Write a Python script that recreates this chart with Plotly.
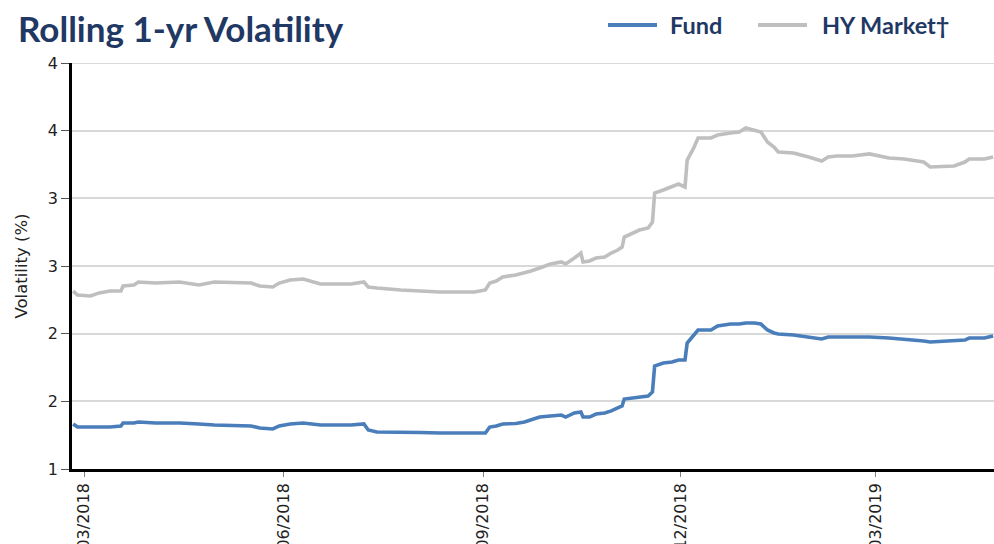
import plotly.graph_objects as go

dates = [
    "2018-02-24", "2018-02-26", "2018-03-04", "2018-03-08", "2018-03-13", "2018-03-18",
    "2018-03-19", "2018-03-24", "2018-03-26", "2018-04-03", "2018-04-14", "2018-04-23",
    "2018-04-30", "2018-05-17", "2018-05-21", "2018-05-27", "2018-05-30", "2018-06-04",
    "2018-06-10", "2018-06-18", "2018-07-02", "2018-07-08", "2018-07-10", "2018-07-14",
    "2018-07-25", "2018-08-03", "2018-08-12", "2018-08-21", "2018-08-28", "2018-09-02",
    "2018-09-04", "2018-09-07", "2018-09-10", "2018-09-16", "2018-09-20", "2018-09-23",
    "2018-09-27", "2018-10-02", "2018-10-07", "2018-10-09", "2018-10-13", "2018-10-16",
    "2018-10-17", "2018-10-20", "2018-10-23", "2018-10-27", "2018-10-30", "2018-11-02",
    "2018-11-04", "2018-11-05", "2018-11-12", "2018-11-16", "2018-11-18", "2018-11-19",
    "2018-11-23", "2018-11-27", "2018-11-30", "2018-12-03", "2018-12-04", "2018-12-07",
    "2018-12-09", "2018-12-15", "2018-12-18", "2018-12-24", "2018-12-28", "2018-12-31",
    "2019-01-04", "2019-01-07", "2019-01-10", "2019-01-13", "2019-01-15", "2019-01-22",
    "2019-01-29", "2019-02-04", "2019-02-07", "2019-02-11", "2019-02-18", "2019-02-26",
    "2019-03-07", "2019-03-14", "2019-03-23", "2019-03-26", "2019-04-06", "2019-04-11",
    "2019-04-13", "2019-04-20", "2019-04-24",
]

fund = [
    1.333, 1.310, 1.310, 1.310, 1.310, 1.318,
    1.340, 1.340, 1.347, 1.340, 1.340, 1.333,
    1.325, 1.318, 1.303, 1.296, 1.318, 1.333,
    1.340, 1.325, 1.325, 1.333, 1.288, 1.273,
    1.273, 1.270, 1.266, 1.266, 1.266, 1.266,
    1.310, 1.318, 1.333, 1.336, 1.347, 1.362,
    1.384, 1.392, 1.399, 1.384, 1.414, 1.421,
    1.384, 1.384, 1.406, 1.414, 1.429, 1.451,
    1.466, 1.517, 1.532, 1.539, 1.569, 1.761,
    1.783, 1.791, 1.805, 1.805, 1.931, 1.990,
    2.027, 2.027, 2.057, 2.071, 2.071, 2.079,
    2.079, 2.071, 2.027, 2.005, 1.997, 1.990,
    1.975, 1.961, 1.975, 1.975, 1.975, 1.975,
    1.968, 1.961, 1.946, 1.938, 1.946, 1.953,
    1.968, 1.968, 1.983,
]

hy_market = [
    2.315, 2.286, 2.278, 2.301, 2.315, 2.315,
    2.352, 2.360, 2.382, 2.374, 2.382, 2.360,
    2.382, 2.374, 2.352, 2.345, 2.374, 2.397,
    2.404, 2.367, 2.367, 2.382, 2.345, 2.337,
    2.323, 2.315, 2.308, 2.308, 2.308, 2.323,
    2.374, 2.389, 2.419, 2.434, 2.448, 2.463,
    2.485, 2.515, 2.530, 2.515, 2.559, 2.596,
    2.530, 2.537, 2.559, 2.567, 2.596, 2.618,
    2.640, 2.714, 2.766, 2.781, 2.825, 3.039,
    3.062, 3.084, 3.106, 3.084, 3.283, 3.372,
    3.446, 3.446, 3.468, 3.483, 3.490, 3.520,
    3.505, 3.490, 3.416, 3.379, 3.342, 3.335,
    3.305, 3.276, 3.305, 3.313, 3.313, 3.328,
    3.298, 3.291, 3.268, 3.232, 3.239, 3.268,
    3.291, 3.291, 3.305,
]

y_ticks = [1, 1.5, 2, 2.5, 3, 3.5, 4]

NAVY = "#1F3864"
BLUE = "#4A7EBB"
GREY = "#BFBFBF"
GRID = "#D9D9D9"

fig = go.Figure()
fig.add_trace(go.Scatter(x=dates, y=hy_market, mode="lines", name="HY Market\u2020",
                         line=dict(color=GREY, width=3.6), showlegend=False))
fig.add_trace(go.Scatter(x=dates, y=fund, mode="lines", name="Fund",
                         line=dict(color=BLUE, width=3.6), showlegend=False))

# top gridline (plotly omits the grid line on the plot edge)
fig.add_shape(type="line", xref="paper", yref="y", x0=0, x1=1, y0=y_ticks[-1], y1=y_ticks[-1],
              line=dict(color=GRID, width=2), layer="below")

# manual legend (positions relative to plot area)
def px_x(p):
    return (p - 72) / 922.0

def px_y(p):
    return (469 - p) / 406.0

legend_items = [("Fund", BLUE, 608, 657, 668), ("HY Market\u2020", GREY, 758, 807, 820)]
for label, col, x0, x1, xt in legend_items:
    fig.add_shape(type="line", xref="paper", yref="paper",
                  x0=px_x(x0), x1=px_x(x1), y0=px_y(25), y1=px_y(25),
                  line=dict(color=col, width=4))
    fig.add_annotation(text="<b>%s</b>" % label, xref="paper", yref="paper",
                       x=px_x(xt), y=px_y(25), xanchor="left", yanchor="middle",
                       showarrow=False, font=dict(family="Lato", size=23.5, color=NAVY))

fig.update_layout(
    width=994, height=544,
    margin=dict(l=72, r=0, t=63, b=75),
    paper_bgcolor="white", plot_bgcolor="white",
    title=dict(text="<b>Rolling 1-yr Volatility</b>", x=18 / 994, xanchor="left",
               y=1 - 30 / 544, yanchor="middle",
               font=dict(family="Lato", size=35, color=NAVY)),
    font=dict(family="DejaVu Sans", color="#222222"),
)

fig.update_xaxes(
    type="date",
    range=["2018-02-23 11:00", "2019-04-24 10:00"],
    tick0="2018-03-01", dtick="M3", tickformat="%m/%Y", tickangle=-90,
    ticks="outside", ticklen=5, tickcolor="#7f7f7f", tickwidth=1,
    tickfont=dict(family="DejaVu Sans", size=16, color="#222222"),
    showline=True, linecolor="black", linewidth=2.5,
    showgrid=False, zeroline=False, automargin=False,
)
fig.update_yaxes(
    range=[1, 4], tickvals=y_ticks, tickformat=".0f",
    ticks="outside", ticklen=8, tickcolor="#555555", tickwidth=1,
    tickfont=dict(family="DejaVu Sans", size=16, color="#222222"),
    showline=True, linecolor="black", linewidth=2.5,
    showgrid=True, gridcolor=GRID, gridwidth=2, zeroline=False,
    title=dict(text="Volatility (%)", font=dict(family="DejaVu Sans", size=16.5, color="#222222"),
               standoff=17),
    automargin=False,
)

fig.write_html(
    "out.html",
    config={"displayModeBar": False},
    post_script="document.body.style.margin='0';document.body.style.overflow='hidden';",
)
